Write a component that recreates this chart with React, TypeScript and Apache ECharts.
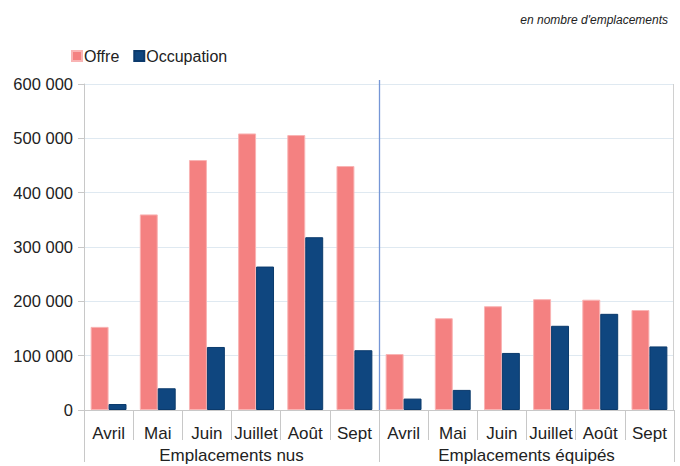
import React, { useEffect, useRef } from "react";
import * as echarts from "echarts";

const months = ["Avril", "Mai", "Juin", "Juillet", "Août", "Sept"];
const groups = ["Emplacements nus", "Emplacements équipés"];
const offreNus = [153000, 360000, 460000, 509000, 506000, 449000];
const occupationNus = [11000, 40000, 116000, 264000, 318000, 110000];
const offreEquipes = [103000, 169000, 191000, 204000, 203000, 184000];
const occupationEquipes = [21000, 37000, 105000, 155000, 177000, 117000];
const yTicks = { min: 0, max: 600000, interval: 100000 };

const FONT = "'Liberation Sans Narrow', 'Liberation Sans', sans-serif";

export default function App() {
  const ref = useRef<HTMLDivElement>(null);
  useEffect(() => {
    const chart = echarts.init(ref.current!, null, { renderer: "svg" });
    const categories = [...months, ...months];
    const offre = [...offreNus, ...offreEquipes];
    const occupation = [...occupationNus, ...occupationEquipes];
    chart.setOption({
      animation: false,
      backgroundColor: "#ffffff",
      textStyle: { fontFamily: FONT },
      title: {
        text: "en nombre d'emplacements",
        right: 7,
        top: 9,
        textStyle: {
          fontFamily: FONT,
          fontStyle: "italic",
          fontWeight: "normal",
          fontSize: 12,
          color: "#222",
        },
      },
      legend: {
        left: 66,
        top: 43,
        itemWidth: 10,
        itemHeight: 10,
        itemGap: 14,
        icon: "rect",
        textStyle: { fontFamily: FONT, fontSize: 16, color: "#222", padding: [0, 0, 0, -3] },
        data: ["Offre", "Occupation"],
      },
      grid: { left: 84, right: 6, top: 84, bottom: 56, containLabel: false },
      xAxis: [
        {
          type: "category",
          data: categories,
          axisLine: { show: true, lineStyle: { color: "#c8c8c8" } },
          axisTick: { show: true, interval: 0, length: 30, lineStyle: { color: "#c8c8c8" } },
          axisLabel: { interval: 0, margin: 15, fontFamily: FONT, fontSize: 17, color: "#222" },
        },
        {
          type: "category",
          data: groups,
          position: "bottom",
          axisLine: { show: false },
          axisTick: { show: true, interval: 0, length: 52, lineStyle: { color: "#c8c8c8" } },
          axisLabel: { interval: 0, margin: 37, fontFamily: FONT, fontSize: 17, color: "#222" },
          splitLine: { show: false },
        },
      ],
      yAxis: {
        type: "value",
        min: yTicks.min,
        max: yTicks.max,
        interval: yTicks.interval,
        axisLine: { show: true, lineStyle: { color: "#c8c8c8" } },
        axisTick: { show: true, length: 6, lineStyle: { color: "#c8c8c8" } },
        splitLine: { show: true, lineStyle: { color: "#dfe9f1" } },
        axisLabel: {
          margin: 11,
          fontFamily: FONT,
          fontSize: 16.5,
          color: "#222",
          formatter: (v: number) => String(v).replace(/\B(?=(\d{3})+(?!\d))/g, " "),
        },
      },
      series: [
        {
          name: "Offre",
          type: "bar",
          data: offre,
          barGap: "0%",
          barCategoryGap: "27%",
          itemStyle: { color: "#f48181", borderColor: "#f9b4b4", borderWidth: 1 },
        },
        {
          name: "Occupation",
          type: "bar",
          data: occupation,
          barGap: "0%",
          barCategoryGap: "27%",
          itemStyle: { color: "#0f467f", borderColor: "#0b3a6c", borderWidth: 1 },
        },
      ],
    });
    // divider between the two groups and right frame, positioned through the axis scale
    const px = (i: number, v: number) =>
      chart.convertToPixel({ xAxisIndex: 0, yAxisIndex: 0 }, [i, v]) as number[];
    const [xa] = px(5, yTicks.max);
    const [xb, yTop] = px(6, yTicks.max);
    const [x11, yBottom] = px(11, yTicks.min);
    const band = xb - xa;
    const xd = Math.round((xa + xb) / 2) + 0.5;
    const xr = Math.round(x11 + band / 2) - 0.5;
    chart.setOption({
      graphic: [
        {
          type: "line",
          shape: { x1: xd, y1: yTop - 4, x2: xd, y2: yBottom },
          style: { stroke: "#7596d6", lineWidth: 1.3 },
          z: 10,
        },
        {
          type: "line",
          shape: { x1: xr, y1: yTop, x2: xr, y2: yBottom },
          style: { stroke: "#d0d0d0", lineWidth: 1 },
          z: 10,
        },
      ],
    });
    return () => chart.dispose();
  }, []);
  return <div ref={ref} style={{ width: 680, height: 466, position: "absolute", left: 0, top: 0 }} />;
}
